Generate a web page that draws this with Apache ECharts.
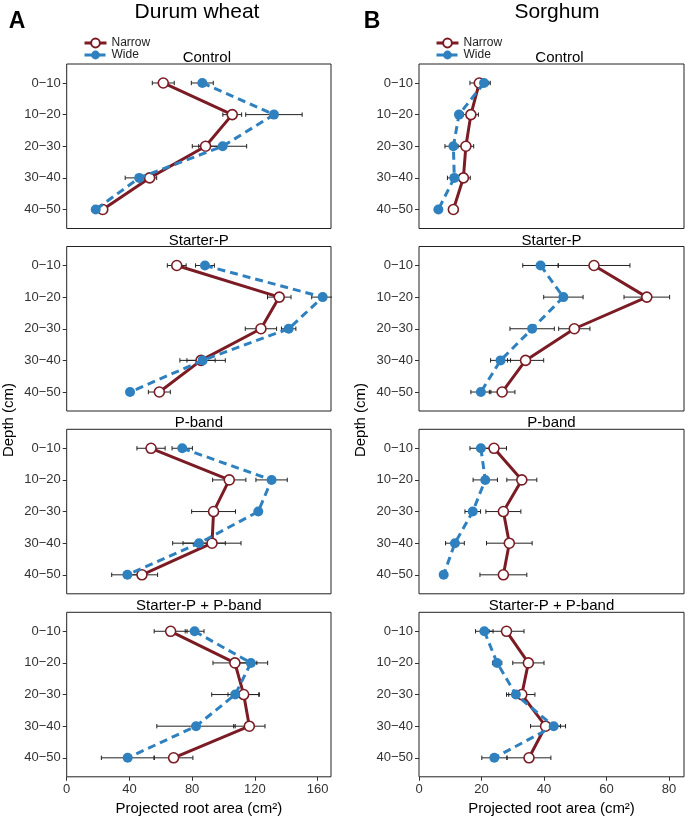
<!DOCTYPE html>
<html>
<head>
<meta charset="utf-8">
<script src="https://cdn.jsdelivr.net/npm/echarts@6/dist/echarts.min.js"></script>
<style>
html,body{margin:0;padding:0;background:#fff;}
#chart{width:685px;height:820px;}
</style>
</head>
<body>
<div id="chart"></div>
<script>
// ---- Data ----
const depths = ['0\u221210', '10\u221220', '20\u221230', '30\u221240', '40\u221250'];
const treatments = ['Control', 'Starter-P', 'P-band', 'Starter-P + P-band'];
const wheatTicks = [0, 40, 80, 120, 160];
const sorghumTicks = [0, 20, 40, 60, 80];

// Durum wheat (rows = treatments, columns = depths)
const wheatNarrowMean = [
  [61.6, 105.6, 88.6, 52.9, 23.0],
  [70.2, 135.6, 123.9, 85.7, 59.1],
  [53.8, 103.7, 93.7, 92.7, 48.0],
  [66.3, 107.3, 112.9, 116.5, 68.2]
];
const wheatNarrowErr = [
  [7, 6, 8.5, 4.5, 2],
  [6, 7.5, 10, 9, 7],
  [9, 10.6, 14, 18.5, 10],
  [10.5, 14, 10, 10, 12.3]
];
const wheatWideMean = [
  [86.5, 132.2, 99.5, 46.3, 18.5],
  [88.2, 163.3, 141.6, 86.7, 40.4],
  [73.7, 130.7, 122.2, 84.4, 38.7],
  [81.6, 117.5, 107.5, 82.5, 38.9]
];
const wheatWideErr = [
  [7, 18, 15.3, 9, 2],
  [6, 7, 4.6, 14.5, 2],
  [6.5, 10, 2, 16.8, 10],
  [6, 10.7, 15, 25, 16.8]
];

// Sorghum
const sorghumNarrowMean = [
  [19.3, 16.6, 15.0, 14.2, 11.0],
  [56.0, 72.9, 49.7, 34.1, 26.6],
  [24.0, 32.9, 27.0, 28.9, 27.0],
  [28.0, 35.0, 32.9, 40.5, 35.2]
];
const sorghumNarrowErr = [
  [3, 2.4, 2.5, 2.2, 0.8],
  [11.5, 7.3, 5, 5.8, 4.1],
  [4, 4.8, 5.6, 7.3, 7.5],
  [5.6, 5, 4.2, 4.8, 7]
];
const sorghumWideMean = [
  [20.8, 12.8, 11.0, 11.3, 6.2],
  [38.9, 46.2, 36.2, 26.1, 19.8],
  [19.8, 21.2, 17.2, 11.5, 7.9],
  [20.9, 25.0, 31.0, 43.1, 24.1]
];
const sorghumWideErr = [
  [2, 0.8, 2.7, 2.2, 0.8],
  [5.7, 6.3, 7.1, 3.2, 3.2],
  [3.5, 3.9, 2.5, 3, 0.5],
  [2.8, 1.5, 3, 3.8, 4]
];

// ---- Styling / layout ----
const FONT = '"Liberation Sans", Arial, Helvetica, sans-serif';
const RED = '#7b1c25';
const BLUE = '#2f80bf';
const rowTops = [64, 246.5, 429.3, 612.3];
const rowH = 164.5;
const cols = [
  {left: 66.7, width: 264.3, max: 168.6, ticks: wheatTicks,
   nM: wheatNarrowMean, nE: wheatNarrowErr, wM: wheatWideMean, wE: wheatWideErr},
  {left: 419, width: 265, max: 84.8, ticks: sorghumTicks,
   nM: sorghumNarrowMean, nE: sorghumNarrowErr, wM: sorghumWideMean, wE: sorghumWideErr}
];

const grids = [], xAxes = [], yAxes = [], series = [];

function errRender(params, api) {
  const y = api.value(2);
  const a = api.coord([api.value(0), y]);
  const b = api.coord([api.value(1), y]);
  const h = 2.2;
  const st = {stroke: '#222', lineWidth: 1};
  return {
    type: 'group',
    children: [
      {type: 'line', shape: {x1: a[0], y1: a[1], x2: b[0], y2: b[1]}, style: st},
      {type: 'line', shape: {x1: a[0], y1: a[1] - h, x2: a[0], y2: a[1] + h}, style: st},
      {type: 'line', shape: {x1: b[0], y1: b[1] - h, x2: b[0], y2: b[1] + h}, style: st}
    ]
  };
}

let gi = 0;
cols.forEach((c, ci) => {
  treatments.forEach((t, ri) => {
    const bottom = ri === treatments.length - 1;
    grids.push({left: c.left, top: rowTops[ri], width: c.width, height: rowH,
      show: true, borderColor: '#222', borderWidth: 1, backgroundColor: '#fff'});
    xAxes.push({
      type: 'value', gridIndex: gi, min: 0, max: c.max,
      splitLine: {show: false}, axisLine: {show: false},
      axisTick: {show: bottom, length: 4, lineStyle: {color: '#333'}, customValues: c.ticks},
      axisLabel: {show: bottom, customValues: c.ticks, margin: 6, color: '#333',
        fontSize: 13, fontFamily: FONT}
    });
    yAxes.push({
      type: 'value', gridIndex: gi, min: 0.4, max: 5.6, inverse: true,
      splitLine: {show: false}, axisLine: {show: false},
      axisTick: {show: true, length: 4, lineStyle: {color: '#333'}, customValues: [1, 2, 3, 4, 5]},
      axisLabel: {customValues: [1, 2, 3, 4, 5], margin: 6, color: '#333', fontSize: 13,
        fontFamily: FONT, formatter: v => depths[Math.round(v) - 1]}
    });
    const nM = c.nM[ri], nE = c.nE[ri], wM = c.wM[ri], wE = c.wE[ri];
    series.push({
      type: 'custom', xAxisIndex: gi, yAxisIndex: gi, renderItem: errRender, z: 1, clip: true,
      silent: true, encode: {x: [0, 1], y: 2},
      data: nM.map((m, i) => [m - nE[i], m + nE[i], i + 1])
    });
    series.push({
      type: 'custom', xAxisIndex: gi, yAxisIndex: gi, renderItem: errRender, z: 1, clip: true,
      silent: true, encode: {x: [0, 1], y: 2},
      data: wM.map((m, i) => [m - wE[i], m + wE[i], i + 1])
    });
    series.push({
      name: 'Narrow', type: 'line', xAxisIndex: gi, yAxisIndex: gi, z: 3,
      data: nM.map((m, i) => [m, i + 1]),
      symbol: 'circle', symbolSize: 10, showSymbol: true, animation: false,
      lineStyle: {color: RED, width: 3},
      itemStyle: {color: '#fff', borderColor: RED, borderWidth: 1.6}
    });
    series.push({
      name: 'Wide', type: 'line', xAxisIndex: gi, yAxisIndex: gi, z: 4,
      data: wM.map((m, i) => [m, i + 1]),
      symbol: 'circle', symbolSize: 10, showSymbol: true, animation: false,
      lineStyle: {color: BLUE, width: 3, type: [8, 5]},
      itemStyle: {color: BLUE, borderColor: BLUE, borderWidth: 0}
    });
    gi++;
  });
});

const graphics = [];
function txt(x, y, text, font, extra) {
  graphics.push(Object.assign({type: 'text', x: x, y: y,
    style: {text: text, font: font, fill: '#000', align: 'center', verticalAlign: 'middle'}}, extra || {}));
}
// headings
txt(197, 12, 'Durum wheat', '21px ' + FONT);
txt(557, 12, 'Sorghum', '21px ' + FONT);
txt(17, 22, 'A', 'bold 23px ' + FONT);
txt(372, 22, 'B', 'bold 23px ' + FONT);
// panel titles
const titleOffsets = [8, 0, 0, 0];
cols.forEach((c) => {
  const cx = c.left + c.width / 2;
  treatments.forEach((t, ri) => {
    txt(cx + titleOffsets[ri], rowTops[ri] - 6, t, '15px ' + FONT);
  });
  txt(cx, 809, 'Projected root area (cm\u00B2)', '15px ' + FONT);
});
// y axis titles
txt(9, 420, 'Depth (cm)', '15px ' + FONT, {rotation: Math.PI / 2});
txt(361, 420, 'Depth (cm)', '15px ' + FONT, {rotation: Math.PI / 2});

const legendBase = {
  orient: 'vertical', itemWidth: 22, itemHeight: 11, itemGap: 0,
  data: ['Narrow', 'Wide'], selectedMode: false,
  lineStyle: {width: 3},
  textStyle: {fontSize: 12, fontFamily: FONT, color: '#222', padding: [0, 0, 0, 0]},
  padding: 0
};

const chart = echarts.init(document.getElementById('chart'), null, {renderer: 'canvas'});
chart.setOption({
  animation: false,
  backgroundColor: '#fff',
  grid: grids,
  xAxis: xAxes,
  yAxis: yAxes,
  series: series,
  legend: [
    Object.assign({}, legendBase, {left: 83, top: 37}),
    Object.assign({}, legendBase, {left: 435, top: 37})
  ],
  graphic: graphics
});
</script>
</body>
</html>
